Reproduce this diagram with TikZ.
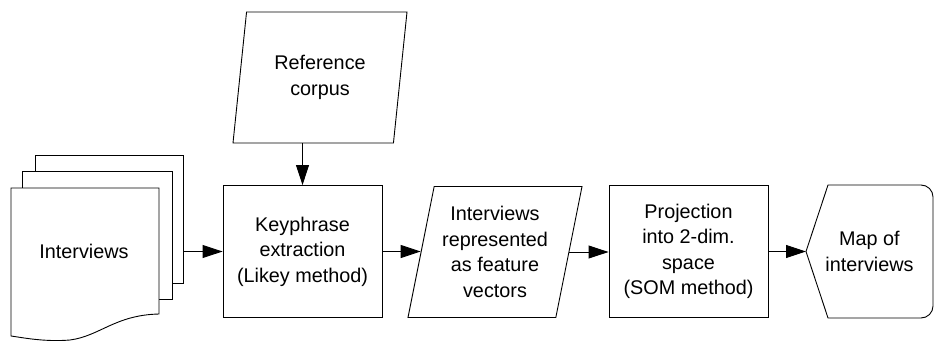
\documentclass[tikz,border=0pt]{standalone}
\usepackage{fontspec}
\setmainfont{Liberation Sans}
\usetikzlibrary{arrows.meta,shapes.geometric}
\begin{document}
\begin{tikzpicture}[x=1pt,y=-1pt,line width=0.9pt,
    every node/.style={font=\fontsize{19.8}{25.5}\selectfont, align=center},
    proc/.style={draw, rectangle, minimum width=159pt, minimum height=132pt},
    data/.style={draw, trapezium, trapezium left angle=75, trapezium right angle=105,
        trapezium stretches body, minimum width=174pt, minimum height=131pt},
    sheet/.style={draw, fill=white, minimum width=148pt, minimum height=128pt},
    flow/.style={-{Triangle[length=20pt,width=13pt]}}]
                    \useasboundingbox (0,0) rectangle (934,340);
                    \node (back) at (109,219) [sheet] {};
                    \node (middle) at (97,235) [sheet, minimum width=150pt] {};
                    \draw[fill=white] (11,188) -- (159,188) -- (159,314)
                        .. controls (115,315) and (100,336) .. (70,340)
                        .. controls (45,342) and (25,338) .. (11,336) -- cycle;
                    \node (docs) at (84,251) {Interviews};
                    \node (corpus) at (320,77.5) [data] {Reference\\corpus};
                    \node (key) at (302.5,251.5) [proc] {Keyphrase\\extraction\\(Likey method)};
                    \node (feat) at (495,252) [data] {Interviews\\represented\\as feature\\vectors};
                    \node (proj) at (688.5,251.5) [proc] {Projection\\into 2-dim.\\space\\(SOM method)};
                    \node (map) at (869.5,251.5) [outer sep=0pt, minimum width=127pt, minimum height=133pt] {Map of\\interviews};
                    \draw (map.west) -- ([xshift=22pt]map.north west) -- ([xshift=-12pt]map.north east)
                        arc[start angle=-90, end angle=0, radius=12] -- ([yshift=12pt]map.south east)
                        arc[start angle=0, end angle=90, radius=12] -- ([xshift=22pt]map.south west) -- cycle;
                    \draw[flow] (key.west -| back.east) -- (key.west);
                    \draw[flow] (corpus.south -| key.north) -- (key.north);
                    \draw[flow] (key.east) -- (key.east -| feat.west);
                    \draw[flow] (feat.east) -- (feat.east -| proj.west);
                    \draw[flow] (proj.east) -- (map.west);
                \end{tikzpicture}
\end{document}
